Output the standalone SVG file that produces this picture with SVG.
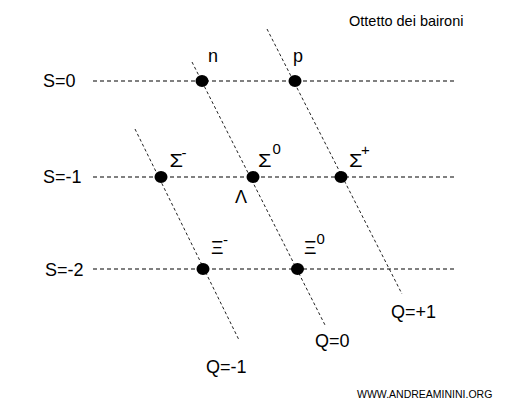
<svg xmlns="http://www.w3.org/2000/svg" width="517" height="418" viewBox="0 0 517 418">
<style>
text{font-family:"Liberation Sans",Arial,sans-serif;fill:#000}
.lab{font-size:18px}
.sup{font-size:15px}
.h{stroke:#808080;stroke-width:2;stroke-dasharray:4 3;fill:none}
.d{stroke:#222;stroke-width:1;stroke-dasharray:3 2.5;fill:none}
.dot{fill:#000}
</style>
<rect width="517" height="418" fill="#fff"/>
<text x="349" y="26" style="font-size:14.5px">Ottetto dei baironi</text>
<g id="connectors">
<line class="h" x1="93" y1="81" x2="455" y2="81"/>
<line class="h" x1="93" y1="177" x2="455" y2="177"/>
<line class="h" x1="93" y1="269" x2="456" y2="269"/>
<line class="d" x1="135" y1="129" x2="239" y2="340"/>
<line class="d" x1="192" y1="62" x2="326" y2="327"/>
<line class="d" x1="267" y1="29" x2="402" y2="294"/>
</g>
<g id="axis-labels">
<text class="lab" x="43" y="87">S=0</text>
<text class="lab" x="43" y="183">S=-1</text>
<text class="lab" x="45" y="276">S=-2</text>
<text class="lab" x="206" y="373">Q=-1</text>
<text class="lab" x="315" y="347">Q=0</text>
<text class="lab" x="391" y="318">Q=+1</text>
</g>
<g id="n"><ellipse class="dot" cx="202" cy="81" rx="6.5" ry="6"/><text class="lab" x="208" y="62">n</text></g>
<g id="p"><ellipse class="dot" cx="295" cy="81" rx="6.5" ry="6"/><text class="lab" x="293" y="62">p</text></g>
<g id="sigma-minus"><ellipse class="dot" cx="161" cy="177" rx="6.5" ry="6"/><text class="lab" x="169.5" y="167" textLength="13.5" lengthAdjust="spacingAndGlyphs">Σ</text><text class="sup" x="181.5" y="158">-</text></g>
<g id="sigma-zero"><ellipse class="dot" cx="253" cy="177" rx="6.5" ry="6"/><text class="lab" x="258" y="167" textLength="13.5" lengthAdjust="spacingAndGlyphs">Σ</text><text class="sup" x="272.5" y="154">0</text></g>
<g id="sigma-plus"><ellipse class="dot" cx="341" cy="177" rx="6.5" ry="6"/><text class="lab" x="349" y="167" textLength="13.5" lengthAdjust="spacingAndGlyphs">Σ</text><text class="sup" x="361" y="155">+</text></g>
<g id="lambda"><text class="lab" x="235" y="203">Λ</text></g>
<g id="xi-minus"><ellipse class="dot" cx="203" cy="269" rx="6.5" ry="6"/><text class="lab" x="211" y="254" textLength="12.5" lengthAdjust="spacingAndGlyphs">Ξ</text><text class="sup" x="223" y="245">-</text></g>
<g id="xi-zero"><ellipse class="dot" cx="297.5" cy="269" rx="6.5" ry="6"/><text class="lab" x="304" y="254" textLength="12.5" lengthAdjust="spacingAndGlyphs">Ξ</text><text class="sup" x="316.5" y="244">0</text></g>
<text x="357" y="398" style="font-size:10.5px">WWW.ANDREAMININI.ORG</text>
</svg>
